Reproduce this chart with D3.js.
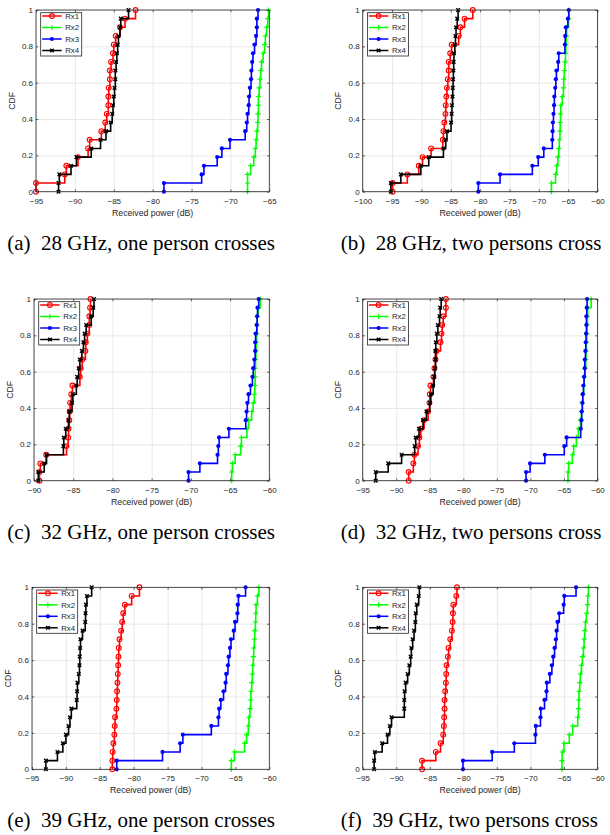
<!DOCTYPE html>
<html>
<head>
<meta charset="utf-8">
<script src="https://cdn.jsdelivr.net/npm/d3@7"></script>
<style>
  body { margin: 0; background: #fff; }
  svg { display: block; }
</style>
</head>
<body>
<svg id="fig" width="610" height="835"></svg>
<script>
// ---- Received power samples (dB), 21 measurements per receiver ----
const receivers = ["Rx1", "Rx2", "Rx3", "Rx4"];
const yTicks = [0, 0.2, 0.4, 0.6, 0.8, 1];

const captions = [
  "(a)\u00a0 28 GHz, one person crosses",
  "(b)\u00a0 28 GHz, two persons cross",
  "(c)\u00a0 32 GHz, one person crosses",
  "(d)\u00a0 32 GHz, two persons cross",
  "(e)\u00a0 39 GHz, one person crosses",
  "(f)\u00a0 39 GHz, two persons cross"
];

const xDomains = [[-95, -65], [-100, -60], [-90, -60], [-95, -60], [-95, -60], [-95, -60]];

// 28 GHz, one person crosses
const g28one_rx1 = [-95.0, -91.3, -91.1, -89.6, -88.3, -88.1, -86.6, -86.1, -85.9, -85.7, -85.7, -85.65, -85.5, -85.5, -85.35, -85.1, -85.0, -84.75, -84.2, -83.55, -82.2];
const g28one_rx2 = [-67.8, -67.8, -67.4, -67.0, -66.8, -66.7, -66.6, -66.5, -66.45, -66.4, -66.4, -66.3, -66.2, -66.1, -66.0, -65.8, -65.6, -65.5, -65.35, -65.2, -65.1];
const g28one_rx3 = [-78.55, -73.7, -73.4, -71.7, -71.1, -70.05, -68.1, -67.9, -67.8, -67.65, -67.6, -67.5, -67.35, -67.3, -67.2, -67.1, -66.9, -66.7, -66.6, -66.6, -66.45];
const g28one_rx4 = [-92.1, -92.0, -90.5, -89.8, -87.9, -86.7, -86.0, -85.4, -85.2, -85.1, -85.0, -84.9, -84.8, -84.8, -84.7, -84.6, -84.5, -84.4, -84.2, -84.1, -83.1];

// 28 GHz, two persons cross
const g28two_rx1 = [-94.9, -92.4, -90.45, -89.8, -88.35, -86.35, -86.25, -86.1, -85.9, -85.85, -85.75, -85.65, -85.5, -85.35, -85.35, -85.1, -84.85, -83.65, -83.35, -82.65, -81.25];
const g28two_rx2 = [-67.85, -67.15, -66.95, -66.75, -66.6, -66.5, -66.4, -66.35, -66.3, -66.25, -66.0, -65.8, -65.75, -65.65, -65.55, -65.45, -65.4, -65.3, -65.25, -64.95, -64.85];
const g28two_rx3 = [-80.3, -76.6, -71.1, -70.1, -69.15, -67.7, -67.65, -67.6, -67.5, -67.4, -67.35, -67.2, -67.1, -67.0, -66.7, -66.6, -65.55, -65.5, -65.4, -65.05, -64.9];
const g28two_rx4 = [-95.2, -93.5, -90.1, -88.75, -86.25, -85.85, -85.65, -84.95, -84.85, -84.8, -84.7, -84.65, -84.6, -84.55, -84.5, -84.45, -84.3, -84.2, -84.1, -83.9, -83.75];

// 32 GHz, one person crosses
const g32one_rx1 = [-89.3, -89.2, -88.45, -85.85, -85.65, -85.6, -85.5, -85.45, -85.4, -85.25, -85.1, -84.15, -84.05, -83.85, -83.45, -83.4, -83.2, -82.95, -82.95, -82.85, -82.8];
const g32one_rx2 = [-64.8, -64.7, -64.35, -63.65, -63.55, -62.85, -62.65, -62.25, -62.05, -61.9, -61.85, -61.8, -61.8, -61.75, -61.7, -61.65, -61.6, -61.55, -61.55, -61.4, -61.15];
const g32one_rx3 = [-70.3, -68.85, -66.6, -66.5, -66.4, -65.15, -63.0, -62.9, -62.8, -62.65, -62.4, -62.15, -62.05, -61.9, -61.8, -61.8, -61.75, -61.6, -61.55, -61.5, -61.35];
const g32one_rx4 = [-89.45, -88.7, -88.4, -86.25, -86.2, -85.95, -85.6, -85.5, -85.15, -85.05, -84.6, -84.5, -84.3, -84.15, -83.9, -83.7, -83.55, -83.35, -82.7, -82.45, -82.35];

// 32 GHz, two persons cross
const g32two_rx1 = [-88.15, -87.45, -87.3, -86.75, -86.55, -86.35, -85.85, -85.25, -85.05, -85.0, -84.9, -84.45, -84.3, -84.15, -84.0, -83.4, -83.25, -83.15, -83.0, -82.6, -82.6];
const g32two_rx2 = [-64.4, -64.3, -63.75, -63.55, -63.15, -62.85, -62.55, -62.4, -62.3, -62.15, -62.05, -62.0, -61.85, -61.75, -61.7, -61.65, -61.6, -61.55, -61.5, -61.45, -60.95];
const g32two_rx3 = [-70.65, -70.05, -67.85, -64.95, -64.6, -62.5, -62.4, -62.35, -62.25, -62.2, -62.1, -62.0, -61.9, -61.9, -61.8, -61.75, -61.7, -61.65, -61.65, -61.6, -61.55];
const g32two_rx4 = [-93.05, -91.2, -89.2, -87.25, -87.1, -86.6, -86.0, -85.5, -85.0, -84.85, -84.5, -84.35, -84.25, -84.15, -84.15, -84.1, -83.95, -83.8, -83.55, -83.45, -83.3];

// 39 GHz, one person crosses
const g39one_rx1 = [-83.15, -83.1, -83.0, -82.85, -82.8, -82.75, -82.55, -82.5, -82.45, -82.4, -82.35, -82.3, -82.25, -82.2, -82.1, -81.85, -81.7, -81.55, -81.3, -80.3, -79.15];
const g39one_rx2 = [-65.6, -65.15, -63.65, -63.35, -63.1, -63.0, -62.85, -62.75, -62.7, -62.6, -62.5, -62.45, -62.35, -62.3, -62.2, -62.15, -62.05, -62.0, -61.95, -61.75, -61.55];
const g39one_rx3 = [-82.5, -75.75, -73.15, -72.75, -68.55, -67.5, -67.4, -67.15, -66.75, -66.45, -66.35, -66.1, -66.0, -65.8, -65.65, -65.25, -65.05, -64.7, -64.65, -64.55, -63.5];
const g39one_rx4 = [-92.95, -91.25, -90.45, -90.0, -89.6, -89.4, -89.2, -88.4, -88.35, -88.3, -88.1, -88.0, -87.95, -87.9, -87.85, -87.55, -87.15, -87.1, -87.05, -86.9, -86.2];

// 39 GHz, two persons cross
const g39two_rx1 = [-86.15, -84.1, -83.4, -83.0, -82.9, -82.85, -82.8, -82.8, -82.7, -82.6, -82.55, -82.5, -82.3, -82.2, -81.95, -81.7, -81.6, -81.55, -81.5, -81.05, -80.95];
const g39two_rx2 = [-65.3, -65.25, -65.0, -64.2, -63.7, -62.95, -62.85, -62.8, -62.75, -62.65, -62.55, -62.4, -62.25, -62.1, -62.0, -61.9, -61.8, -61.65, -61.5, -61.45, -61.35];
const g39two_rx3 = [-80.05, -75.7, -72.4, -69.25, -69.2, -68.5, -68.45, -67.9, -67.6, -67.55, -67.1, -66.8, -66.6, -66.4, -66.2, -66.1, -65.95, -65.7, -65.05, -64.95, -63.2];
const g39two_rx4 = [-93.3, -93.2, -92.1, -91.3, -90.95, -90.7, -88.8, -88.8, -88.75, -88.6, -88.3, -88.05, -87.85, -87.75, -87.55, -87.35, -87.15, -87.1, -86.95, -86.65, -86.55];

const panelSeries = [
  [g28one_rx1, g28one_rx2, g28one_rx3, g28one_rx4],
  [g28two_rx1, g28two_rx2, g28two_rx3, g28two_rx4],
  [g32one_rx1, g32one_rx2, g32one_rx3, g32one_rx4],
  [g32two_rx1, g32two_rx2, g32two_rx3, g32two_rx4],
  [g39one_rx1, g39one_rx2, g39one_rx3, g39one_rx4],
  [g39two_rx1, g39two_rx2, g39two_rx3, g39two_rx4]
];

// ---- layout of the six axes (pixel frames) ----
const frames = [
  { l: 36.0,  t: 10.0,  r: 269.3, b: 191.7 },
  { l: 362.7, t: 10.0,  r: 597.5, b: 191.7 },
  { l: 34.0,  t: 299.0, r: 269.3, b: 480.7 },
  { l: 362.7, t: 299.0, r: 597.5, b: 480.7 },
  { l: 32.0,  t: 587.3, r: 269.3, b: 769.3 },
  { l: 362.7, t: 587.3, r: 597.5, b: 769.3 }
];
const captionPos = [
  { x: 7.3, y: 250 }, { x: 340.7, y: 250 },
  { x: 7.3, y: 539 }, { x: 340.7, y: 539 },
  { x: 7.3, y: 827.3 }, { x: 340.7, y: 827.3 }
];

const colors = ["#ff0000", "#00ff00", "#0000ff", "#000000"];
const axisColor = "#262626";
const gridColor = "#dfdfdf";
const sansFont = "'Liberation Sans', Arial, Helvetica, sans-serif";
const serifFont = "'Liberation Serif', 'Times New Roman', serif";

// marker painters for Rx1..Rx4: open circle, plus, filled dot, cross
function drawMarker(sel, k) {
  const c = colors[k];
  if (k === 0) {
    sel.append("circle").attr("r", 2.4).attr("fill", "none").attr("stroke", c).attr("stroke-width", 1.1);
  } else if (k === 1) {
    sel.append("path").attr("d", "M-2.6,0H2.6M0,-2.6V2.6").attr("stroke", c).attr("stroke-width", 1.1).attr("fill", "none");
  } else if (k === 2) {
    sel.append("circle").attr("r", 2.1).attr("fill", c);
  } else {
    sel.append("path").attr("d", "M-1.8,-1.8L1.8,1.8M-1.8,1.8L1.8,-1.8").attr("stroke", c).attr("stroke-width", 1.4).attr("fill", "none");
  }
}

// empirical CDF points: (x1, 0), then (x_i, i/n)
function ecdfPoints(values) {
  const s = values.slice().sort(d3.ascending);
  const n = s.length;
  const pts = [[s[0], 0]];
  s.forEach((v, i) => pts.push([v, (i + 1) / n]));
  return pts;
}

const svg = d3.select("#fig");

frames.forEach((f, p) => {
  const x = d3.scaleLinear().domain(xDomains[p]).range([f.l, f.r]);
  const y = d3.scaleLinear().domain([0, 1]).range([f.b, f.t]);
  const xTicks = d3.range(xDomains[p][0], xDomains[p][1] + 0.1, 5);
  const w = f.r - f.l, h = f.b - f.t;
  const g = svg.append("g");

  // grid
  const gx = g.append("g").attr("transform", `translate(0,${f.b})`)
    .call(d3.axisBottom(x).tickValues(xTicks).tickSize(-h).tickFormat(""));
  const gy = g.append("g").attr("transform", `translate(${f.l},0)`)
    .call(d3.axisLeft(y).tickValues(yTicks).tickSize(-w).tickFormat(""));
  [gx, gy].forEach(a => {
    a.select(".domain").remove();
    a.selectAll("line").attr("stroke", gridColor).attr("stroke-width", 0.7);
  });

  // series: stairs + markers
  const line = d3.line().x(d => x(d[0])).y(d => y(d[1])).curve(d3.curveStepAfter);
  panelSeries[p].forEach((vals, k) => {
    const pts = ecdfPoints(vals);
    g.append("path").datum(pts)
      .attr("d", line)
      .attr("fill", "none")
      .attr("stroke", colors[k])
      .attr("stroke-width", 1.6);
    g.append("g").selectAll("g").data(pts).join("g")
      .attr("transform", d => `translate(${x(d[0])},${y(d[1])})`)
      .each(function () { drawMarker(d3.select(this), k); });
  });

  // axes with inward ticks
  const tl = 2.3;
  const axB = g.append("g").attr("transform", `translate(0,${f.b})`)
    .call(d3.axisBottom(x).tickValues(xTicks).tickSize(-tl).tickPadding(6.3).tickFormat(d3.format("~g")));
  const axT = g.append("g").attr("transform", `translate(0,${f.t})`)
    .call(d3.axisTop(x).tickValues(xTicks).tickSize(-tl).tickFormat(""));
  const axL = g.append("g").attr("transform", `translate(${f.l},0)`)
    .call(d3.axisLeft(y).tickValues(yTicks).tickSize(-tl).tickPadding(3).tickFormat(d3.format("~g")));
  const axR = g.append("g").attr("transform", `translate(${f.r},0)`)
    .call(d3.axisRight(y).tickValues(yTicks).tickSize(-tl).tickFormat(""));
  [axB, axT, axL, axR].forEach(a => {
    a.select(".domain").remove();
    a.selectAll("line").attr("stroke", axisColor).attr("stroke-width", 0.7);
    a.selectAll("text").attr("fill", axisColor).style("font-family", sansFont).style("font-size", "8px");
  });
  g.append("rect").attr("x", f.l).attr("y", f.t).attr("width", w).attr("height", h)
    .attr("fill", "none").attr("stroke", axisColor).attr("stroke-width", 0.8);

  // axis labels
  g.append("text").attr("x", (f.l + f.r) / 2).attr("y", f.b + 24)
    .attr("text-anchor", "middle").attr("fill", axisColor)
    .style("font-family", sansFont).style("font-size", "8.7px")
    .text("Received power (dB)");
  g.append("text").attr("transform", `translate(${f.l - 21.5},${(f.t + f.b) / 2}) rotate(-90)`)
    .attr("text-anchor", "middle").attr("fill", axisColor)
    .style("font-family", sansFont).style("font-size", "8.7px")
    .text("CDF");

  // legend
  const lx = f.l + 4.7, ly = f.t + 2.7, lw = 41, lh = 43.3;
  const lg = g.append("g");
  lg.append("rect").attr("x", lx).attr("y", ly).attr("width", lw).attr("height", lh)
    .attr("fill", "#fff").attr("stroke", axisColor).attr("stroke-width", 0.8);
  receivers.forEach((name, k) => {
    const ry = ly + 3.3 + 11.5 * k;
    lg.append("line").attr("x1", lx + 1.5).attr("x2", lx + 21).attr("y1", ry).attr("y2", ry)
      .attr("stroke", colors[k]).attr("stroke-width", 1.5);
    drawMarker(lg.append("g").attr("transform", `translate(${lx + 11.2},${ry})`), k);
    lg.append("text").attr("x", lx + 24.5).attr("y", ry + 2.8)
      .attr("fill", axisColor).style("font-family", sansFont).style("font-size", "7.8px")
      .text(name);
  });

  // caption
  svg.append("text").attr("x", captionPos[p].x).attr("y", captionPos[p].y)
    .attr("fill", "#000").style("font-family", serifFont).style("font-size", "21px")
    .text(captions[p]);
});
</script>
</body>
</html>
